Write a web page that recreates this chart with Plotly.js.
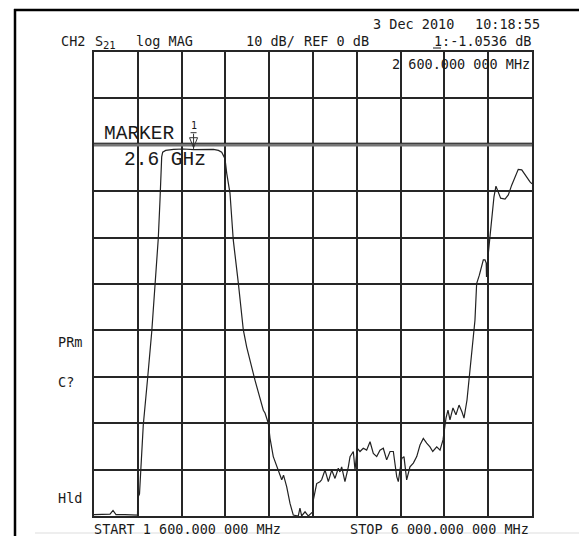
<!DOCTYPE html>
<html><head><meta charset="utf-8">
<script src="https://cdn.plot.ly/plotly-3.0.1.min.js"></script>
<style>html,body{margin:0;padding:0;background:#fff}#chart{width:579px;height:536px}</style>
</head><body><div id="chart"></div>
<script>
// ---- data ----
const freqGHz = [1.600,1.710,1.761,1.791,1.821,1.911,2.022,2.037,2.040,2.057,2.069,2.095,2.137,2.180,2.213,2.246,2.263,2.273,2.280,2.290,2.320,2.400,2.500,2.600,2.700,2.800,2.850,2.883,2.916,2.933,2.966,2.999,3.050,3.100,3.134,3.217,3.301,3.318,3.351,3.368,3.401,3.451,3.486,3.504,3.536,3.569,3.602,3.652,3.669,3.686,3.720,3.753,3.777,3.797,3.803,3.820,3.837,3.870,3.887,3.921,3.954,3.988,4.021,4.054,4.071,4.088,4.121,4.155,4.172,4.205,4.222,4.245,4.272,4.305,4.339,4.373,4.406,4.440,4.473,4.506,4.540,4.574,4.607,4.641,4.657,4.691,4.714,4.741,4.774,4.808,4.842,4.875,4.908,4.942,4.975,5.003,5.043,5.076,5.106,5.136,5.156,5.176,5.206,5.236,5.267,5.297,5.317,5.347,5.377,5.407,5.427,5.444,5.471,5.511,5.528,5.540,5.543,5.548,5.561,5.578,5.595,5.618,5.638,5.661,5.685,5.729,5.762,5.796,5.829,5.862,5.897,5.930,5.980,6.000];
const s21dB = [-79.7,-79.7,-79.6,-78.8,-79.7,-79.7,-79.7,-79.8,-76.0,-75.3,-70.5,-60.4,-50.7,-40.3,-30.2,-20.1,-11.9,-5.4,-2.6,-1.6,-1.2,-1.0,-0.9,-1.05,-0.95,-1.0,-1.2,-1.6,-3.0,-6.1,-10.4,-20.5,-29.8,-39.9,-43.6,-50.7,-57.2,-57.8,-60.0,-63.2,-67.2,-70.1,-72.2,-71.2,-73.7,-77.3,-79.8,-80.0,-78.3,-80.0,-79.1,-80.0,-79.4,-79.1,-76.6,-74.4,-73.0,-72.6,-72.2,-70.1,-72.6,-70.1,-71.9,-69.7,-70.5,-69.4,-72.6,-69.4,-67.2,-66.1,-70.1,-65.4,-66.1,-65.4,-65.8,-64.0,-66.5,-67.2,-65.8,-65.4,-67.9,-66.1,-66.1,-71.5,-72.6,-67.6,-67.2,-72.2,-69.4,-68.6,-67.2,-64.7,-63.3,-64.3,-65.1,-66.1,-65.1,-65.8,-63.6,-58.9,-57.2,-59.3,-56.7,-58.2,-56.1,-57.6,-58.9,-55.0,-48.5,-42.1,-37.8,-29.9,-28.1,-24.8,-24.8,-25.5,-28.5,-26.5,-23.4,-19.8,-15.5,-11.2,-8.9,-10.1,-11.5,-11.7,-10.8,-8.7,-6.9,-5.3,-5.4,-6.5,-8.0,-8.4];

const startGHz = 1.6, stopGHz = 6.0;
const refLevelDb = 0, dbPerDiv = 10, topDb = 20, bottomDb = -80;
const markerFreqGHz = 2.6, markerDb = -1.0536;

const headerDate = "3 Dec 2010";
const headerTime = "10:18:55";
const headerItems = ["CH2", "S", "log MAG", "10 dB/", "REF 0 dB", "1", ":-1.0536 dB"];
const paramSub = "21";
const markerFreqText = "2 600.000 000 MHz";
const sideLabels = ["PRm", "C?", "Hld"];
const startText = "START 1 600.000 000 MHz";
const stopText = "STOP 6 000.000 000 MHz";
const markerLabel = "MARKER";
const markerNum = "1";
const markerValueText = "2.6 GHz";

// ---- layout helpers (pixel -> paper) ----
const L = 94, R = 532, T = 52, B = 516;
const px = x => (x - L) / (R - L);
const py = y => (B - y) / (B - T);
const mono = "DejaVu Sans Mono";
const ink = "#1a1a1a";

function txt(text, x, y, size, family, anchor) {
  return {text: text, xref: "paper", yref: "paper", x: px(x), y: py(y),
    xanchor: anchor || "left", yanchor: "middle", showarrow: false, borderpad: 0,
    font: {family: family || mono, size: size || 13.5, color: ink}};
}

const hdrX = [60, 94, 135, 245, 303, 433, 441];
const annotations = [
  txt(headerDate, 372, 24),
  txt(headerTime, 474, 24),
  ...headerItems.map((t, i) => txt(t, hdrX[i], 41)),
  txt(paramSub, 102, 45, 10.5),
  txt(markerFreqText, 391, 64),
  txt(sideLabels[0], 57, 342),
  txt(sideLabels[1], 57, 382),
  txt(sideLabels[2], 57, 498),
  txt(startText, 93, 529),
  txt(stopText, 349, 529),
  txt(markerLabel, 103, 134, 19.5, "Liberation Mono"),
  txt(markerValueText, 123, 160, 19.5, "Liberation Mono"),
  {text: markerNum, xref: "x", yref: "y", x: markerFreqGHz, y: markerDb, yshift: 24,
   showarrow: false, borderpad: 0, font: {family: mono, size: 10, color: ink}}
];

const shapes = [
  // outer frame
  {type: "line", xref: "paper", yref: "paper", x0: px(15), x1: px(15), y0: py(9), y1: py(540), line: {color: "#000", width: 2.5}},
  {type: "line", xref: "paper", yref: "paper", x0: px(14), x1: px(580), y0: py(10), y1: py(10), line: {color: "#000", width: 2.5}},
  {type: "line", xref: "paper", yref: "paper", x0: px(35), x1: px(580), y0: py(533), y1: py(533), line: {color: "#eeeeee", width: 2}},
  // underline of active marker number in header
  {type: "line", xref: "paper", yref: "paper", x0: px(433), x1: px(441), y0: py(48), y1: py(48), line: {color: ink, width: 1}},
  // reference line
  {type: "line", xref: "paper", yref: "y", x0: 0, x1: 1, y0: refLevelDb, y1: refLevelDb, line: {color: "#777", width: 3.5}},
  {type: "line", xref: "paper", yref: "y", x0: 0, x1: 1, y0: refLevelDb + 0.35, y1: refLevelDb + 0.35, line: {color: "#222", width: 1}},
  // ref triangle at right
  {type: "path", xref: "x", yref: "y", xsizemode: "pixel", ysizemode: "pixel", xanchor: stopGHz, yanchor: refLevelDb,
   path: "M1,0 L7,4 L7,-4 Z", line: {color: "#333", width: 1}, fillcolor: "rgba(0,0,0,0)"},
  // marker 1 symbol
  {type: "path", xref: "x", yref: "y", xsizemode: "pixel", ysizemode: "pixel", xanchor: markerFreqGHz, yanchor: markerDb,
   path: "M-4,12 L4,12 L0,2 Z M0,0 L0,16 M-3,17 L3,17", line: {color: "#333", width: 1}, fillcolor: "rgba(0,0,0,0)"}
];

const data = [{
  x: freqGHz, y: s21dB, type: "scatter", mode: "lines",
  line: {color: "#222", width: 1.2}, hoverinfo: "skip"
}];

const axisCommon = {showgrid: true, gridcolor: "#262626", gridwidth: 2, showline: true, mirror: true,
  linecolor: "#262626", linewidth: 2, showticklabels: false, ticks: "", zeroline: false, fixedrange: true};

const layout = {
  width: 579, height: 536,
  margin: {l: L, r: 579 - R, t: T, b: 536 - B, pad: 0},
  paper_bgcolor: "#fff", plot_bgcolor: "#fff",
  showlegend: false,
  xaxis: Object.assign({range: [startGHz, stopGHz], tick0: startGHz, dtick: (stopGHz - startGHz) / 10}, axisCommon),
  yaxis: Object.assign({range: [bottomDb, topDb], tick0: refLevelDb, dtick: dbPerDiv}, axisCommon),
  annotations: annotations,
  shapes: shapes
};

Plotly.newPlot("chart", data, layout, {displayModeBar: false, staticPlot: true});
</script></body></html>
